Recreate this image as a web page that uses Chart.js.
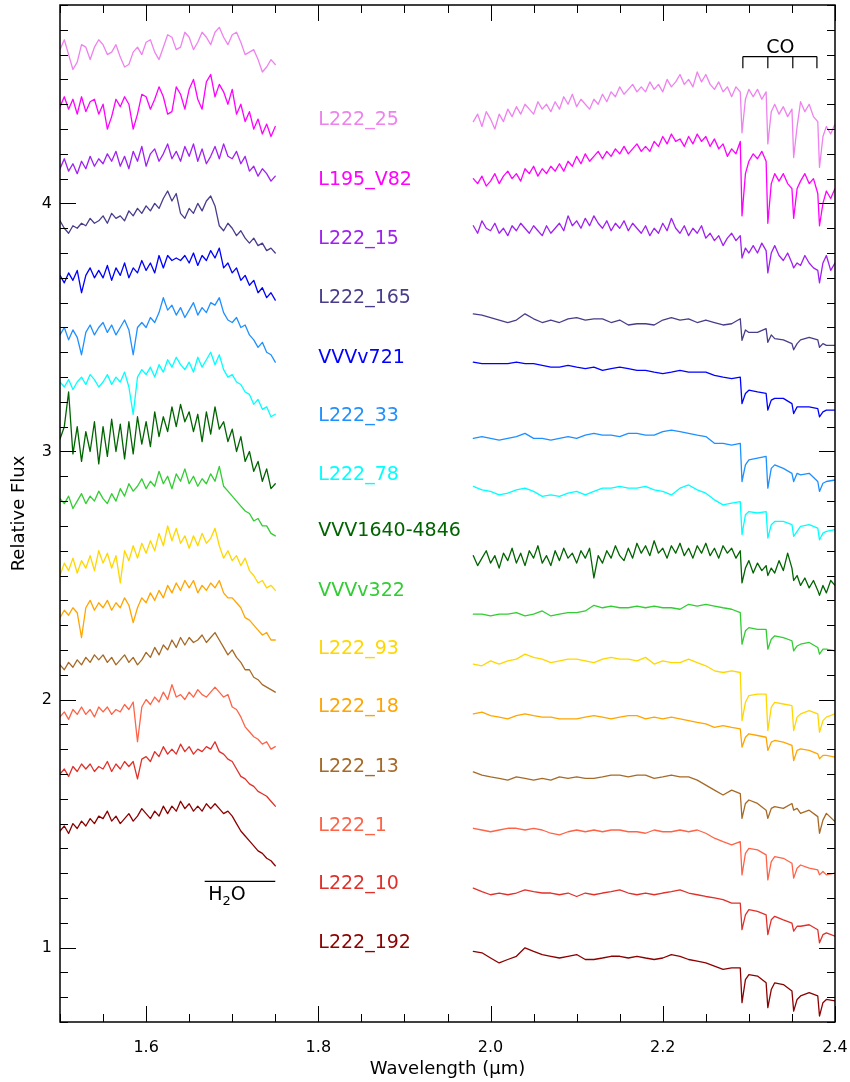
<!DOCTYPE html>
<html>
<head>
<meta charset="utf-8">
<script src="https://cdn.jsdelivr.net/npm/chart.js@4/dist/chart.umd.min.js"></script>
<style>
html,body{margin:0;padding:0;background:#fff;}
canvas{display:block;}
</style>
</head>
<body>
<canvas id="c" width="850" height="1082"></canvas>
<script>
// ---- wavelength grids (micron) ----
const hWave = [1.500,1.505,1.510,1.515,1.520,1.525,1.530,1.535,1.540,1.545,1.550,1.555,1.560,1.565,1.570,1.575,1.580,1.585,1.590,1.595,1.600,1.605,1.610,1.615,1.620,1.625,1.630,1.635,1.640,1.645,1.650,1.655,1.660,1.665,1.670,1.675,1.680,1.685,1.690,1.695,1.700,1.705,1.710,1.715,1.720,1.725,1.730,1.735,1.740,1.745,1.750];
const kWave = [1.98,1.99,2.00,2.01,2.02,2.03,2.04,2.05,2.06,2.07,2.08,2.09,2.10,2.11,2.12,2.13,2.14,2.15,2.16,2.17,2.18,2.19,2.20,2.21,2.22,2.23,2.24,2.25,2.26,2.27,2.28,2.29,2.292,2.296,2.30,2.31,2.32,2.322,2.326,2.33,2.34,2.35,2.352,2.356,2.36,2.37,2.38,2.382,2.386,2.39,2.40];
const kWaveFine = [1.980,1.985,1.990,1.995,2.000,2.005,2.010,2.015,2.020,2.025,2.030,2.035,2.040,2.045,2.050,2.055,2.060,2.065,2.070,2.075,2.080,2.085,2.090,2.095,2.100,2.105,2.110,2.115,2.120,2.125,2.130,2.135,2.140,2.145,2.150,2.155,2.160,2.165,2.170,2.175,2.180,2.185,2.190,2.195,2.200,2.205,2.210,2.215,2.220,2.225,2.230,2.235,2.240,2.245,2.250,2.255,2.260,2.265,2.270,2.275,2.280,2.285,2.290,2.292,2.296,2.300,2.305,2.310,2.315,2.320,2.322,2.326,2.330,2.335,2.340,2.345,2.350,2.352,2.356,2.360,2.365,2.370,2.375,2.380,2.382,2.386,2.390,2.395,2.400];

// ---- star names (top to bottom) and colours ----
const starNames = ["L222_25","L195_V82","L222_15","L222_165","VVVv721","L222_33","L222_78","VVV1640-4846","VVVv322","L222_93","L222_18","L222_13","L222_1","L222_10","L222_192"];
const starColors = ["#EE82EE","#FF00FF","#A020F0","#483D8B","#0000FF","#1E90FF","#00FFFF","#006400","#32CD32","#FFD700","#FFA500","#A66A26","#FF6347","#E0302A","#8B0000"];
const labelFlux = [4.337,4.096,3.855,3.618,3.377,3.144,2.904,2.679,2.438,2.204,1.968,1.727,1.490,1.257,1.020];

// ---- H-band relative flux ----
const hL222_25  = [4.62,4.66,4.60,4.54,4.57,4.64,4.63,4.58,4.63,4.66,4.64,4.60,4.61,4.64,4.59,4.55,4.56,4.61,4.63,4.60,4.65,4.66,4.61,4.58,4.63,4.68,4.67,4.62,4.63,4.69,4.67,4.62,4.65,4.69,4.67,4.64,4.69,4.71,4.67,4.64,4.68,4.69,4.65,4.60,4.61,4.62,4.58,4.53,4.55,4.58,4.56];
const hL195_V82 = [4.39,4.43,4.38,4.42,4.36,4.43,4.37,4.41,4.42,4.36,4.40,4.30,4.35,4.42,4.39,4.43,4.40,4.30,4.36,4.44,4.43,4.38,4.42,4.47,4.43,4.36,4.37,4.47,4.44,4.38,4.46,4.50,4.42,4.38,4.49,4.52,4.43,4.48,4.45,4.40,4.46,4.36,4.40,4.33,4.37,4.30,4.34,4.28,4.32,4.27,4.31];
const hL222_15  = [4.14,4.18,4.13,4.16,4.12,4.17,4.14,4.19,4.15,4.18,4.16,4.20,4.17,4.21,4.15,4.19,4.14,4.21,4.17,4.23,4.15,4.20,4.22,4.17,4.20,4.24,4.18,4.21,4.17,4.23,4.19,4.24,4.17,4.22,4.16,4.19,4.23,4.18,4.24,4.19,4.18,4.21,4.16,4.19,4.13,4.15,4.11,4.14,4.12,4.09,4.11];
const hL222_165 = [3.93,3.90,3.88,3.91,3.90,3.92,3.91,3.94,3.92,3.93,3.95,3.92,3.96,3.94,3.95,3.93,3.97,3.95,3.98,3.96,3.99,3.97,4.00,3.98,4.02,4.05,4.01,4.04,3.96,3.94,3.98,3.96,4.00,3.97,4.01,4.03,3.99,3.91,3.89,3.92,3.90,3.87,3.89,3.86,3.84,3.86,3.83,3.84,3.81,3.82,3.80];
const hVVVv721  = [3.71,3.68,3.72,3.69,3.73,3.64,3.71,3.74,3.70,3.73,3.70,3.75,3.69,3.74,3.71,3.76,3.70,3.74,3.72,3.77,3.73,3.76,3.72,3.79,3.74,3.79,3.77,3.78,3.77,3.79,3.76,3.80,3.75,3.79,3.77,3.81,3.78,3.82,3.74,3.76,3.72,3.74,3.69,3.71,3.67,3.69,3.64,3.66,3.62,3.64,3.61];
const hL222_33  = [3.47,3.50,3.45,3.49,3.46,3.39,3.48,3.51,3.47,3.50,3.52,3.48,3.51,3.47,3.50,3.53,3.49,3.39,3.50,3.52,3.50,3.54,3.52,3.56,3.62,3.57,3.59,3.55,3.58,3.54,3.57,3.60,3.55,3.58,3.56,3.60,3.59,3.62,3.56,3.53,3.52,3.54,3.50,3.51,3.47,3.45,3.42,3.44,3.40,3.39,3.36];
const hL222_78  = [3.28,3.26,3.29,3.25,3.28,3.30,3.27,3.31,3.29,3.26,3.28,3.31,3.27,3.30,3.28,3.32,3.26,3.15,3.30,3.33,3.31,3.34,3.30,3.35,3.32,3.37,3.34,3.38,3.35,3.33,3.36,3.32,3.38,3.34,3.37,3.40,3.35,3.39,3.33,3.30,3.31,3.28,3.27,3.24,3.23,3.19,3.21,3.17,3.18,3.14,3.15];
const hVVV1640  = [3.05,3.10,3.24,2.99,3.10,2.96,3.08,3.00,3.12,2.95,3.10,2.98,3.13,3.00,3.11,2.97,3.12,2.99,3.14,3.03,3.12,3.02,3.16,3.06,3.14,3.08,3.18,3.10,3.19,3.12,3.16,3.08,3.15,3.04,3.16,3.07,3.18,3.09,3.12,3.04,3.09,3.00,3.06,2.96,3.00,2.92,2.96,2.88,2.93,2.85,2.87];
const hVVVv322  = [2.81,2.79,2.82,2.77,2.80,2.83,2.79,2.82,2.80,2.84,2.81,2.79,2.83,2.80,2.85,2.82,2.87,2.84,2.86,2.89,2.85,2.88,2.86,2.92,2.87,2.90,2.85,2.91,2.88,2.93,2.87,2.90,2.86,2.89,2.87,2.91,2.88,2.94,2.86,2.84,2.82,2.80,2.78,2.76,2.75,2.72,2.73,2.70,2.70,2.67,2.66];
const hL222_93  = [2.50,2.55,2.52,2.57,2.51,2.56,2.53,2.58,2.52,2.60,2.55,2.59,2.53,2.58,2.47,2.60,2.56,2.62,2.57,2.63,2.59,2.64,2.60,2.67,2.62,2.70,2.64,2.69,2.63,2.66,2.61,2.66,2.62,2.67,2.63,2.65,2.69,2.62,2.57,2.60,2.56,2.58,2.54,2.57,2.52,2.50,2.47,2.48,2.45,2.46,2.44];
const hL222_18  = [2.33,2.36,2.34,2.37,2.35,2.25,2.37,2.40,2.36,2.39,2.37,2.40,2.36,2.39,2.37,2.41,2.38,2.31,2.37,2.41,2.39,2.43,2.40,2.44,2.41,2.46,2.43,2.47,2.44,2.48,2.45,2.48,2.43,2.46,2.44,2.47,2.45,2.48,2.43,2.41,2.41,2.39,2.37,2.33,2.32,2.30,2.28,2.26,2.27,2.24,2.24];
const hL222_13  = [2.14,2.12,2.15,2.13,2.16,2.14,2.17,2.15,2.18,2.16,2.18,2.15,2.17,2.14,2.16,2.18,2.15,2.17,2.14,2.16,2.19,2.17,2.21,2.18,2.22,2.20,2.24,2.21,2.25,2.22,2.25,2.23,2.24,2.26,2.23,2.25,2.27,2.24,2.21,2.18,2.20,2.17,2.15,2.12,2.12,2.09,2.08,2.06,2.05,2.04,2.03];
const hL222_1   = [1.93,1.95,1.92,1.96,1.94,1.97,1.94,1.96,1.93,1.97,1.95,1.97,1.94,1.96,1.95,1.98,1.96,1.99,1.83,1.97,2.00,1.98,2.01,1.99,2.03,2.00,2.06,2.01,2.02,2.00,2.03,2.01,2.04,2.02,2.01,2.03,2.05,2.03,2.01,2.02,1.97,1.96,1.93,1.89,1.87,1.85,1.84,1.82,1.83,1.80,1.81];
const hL222_10  = [1.70,1.72,1.69,1.73,1.71,1.74,1.72,1.74,1.71,1.73,1.72,1.75,1.71,1.74,1.72,1.75,1.73,1.75,1.68,1.76,1.77,1.75,1.79,1.77,1.81,1.78,1.80,1.78,1.82,1.79,1.81,1.78,1.80,1.79,1.81,1.80,1.83,1.79,1.78,1.76,1.75,1.72,1.69,1.68,1.66,1.65,1.63,1.62,1.61,1.59,1.57];
const hL222_192 = [1.47,1.49,1.46,1.50,1.48,1.51,1.49,1.52,1.50,1.53,1.52,1.55,1.51,1.53,1.50,1.52,1.54,1.51,1.53,1.56,1.54,1.52,1.55,1.53,1.57,1.54,1.57,1.55,1.59,1.56,1.58,1.55,1.57,1.55,1.58,1.56,1.58,1.56,1.54,1.55,1.53,1.50,1.47,1.45,1.43,1.41,1.39,1.38,1.36,1.35,1.33];

// ---- K-band relative flux (first three and VVV1640-4846 on kWaveFine, the rest on kWave) ----
const kL222_25  = [4.33,4.36,4.31,4.37,4.34,4.30,4.36,4.33,4.38,4.35,4.39,4.36,4.40,4.38,4.36,4.41,4.38,4.40,4.37,4.41,4.38,4.43,4.40,4.44,4.39,4.42,4.40,4.38,4.42,4.40,4.44,4.41,4.45,4.43,4.47,4.44,4.46,4.48,4.45,4.47,4.45,4.49,4.46,4.48,4.45,4.50,4.47,4.49,4.52,4.48,4.50,4.47,4.53,4.49,4.52,4.48,4.46,4.49,4.45,4.47,4.43,4.47,4.45,4.285,4.42,4.46,4.43,4.46,4.42,4.45,4.24,4.37,4.40,4.36,4.39,4.35,4.38,4.185,4.31,4.41,4.37,4.40,4.35,4.33,4.145,4.27,4.31,4.28,4.32];
const kL195_V82 = [4.10,4.08,4.11,4.07,4.09,4.12,4.08,4.11,4.13,4.10,4.12,4.09,4.14,4.12,4.15,4.11,4.14,4.12,4.15,4.13,4.16,4.13,4.17,4.15,4.19,4.16,4.20,4.17,4.19,4.21,4.18,4.21,4.19,4.22,4.20,4.23,4.20,4.22,4.24,4.21,4.23,4.21,4.25,4.23,4.27,4.24,4.28,4.25,4.26,4.23,4.27,4.24,4.28,4.25,4.27,4.23,4.26,4.22,4.24,4.19,4.22,4.20,4.25,3.95,4.12,4.17,4.20,4.18,4.21,4.17,3.92,4.08,4.12,4.09,4.12,4.08,4.06,3.94,4.06,4.09,4.12,4.08,4.10,4.04,3.91,4.00,4.05,4.02,4.06];
const kL222_15  = [3.91,3.88,3.93,3.90,3.89,3.92,3.88,3.90,3.87,3.91,3.89,3.92,3.90,3.88,3.91,3.89,3.87,3.91,3.88,3.90,3.92,3.89,3.95,3.91,3.93,3.90,3.94,3.91,3.95,3.92,3.90,3.93,3.89,3.92,3.90,3.93,3.89,3.92,3.90,3.88,3.91,3.87,3.90,3.88,3.92,3.89,3.94,3.90,3.88,3.91,3.87,3.90,3.88,3.91,3.86,3.88,3.85,3.87,3.83,3.86,3.88,3.85,3.87,3.78,3.82,3.80,3.83,3.80,3.84,3.81,3.72,3.80,3.83,3.79,3.77,3.80,3.76,3.74,3.76,3.75,3.79,3.76,3.74,3.73,3.68,3.76,3.79,3.73,3.76];
const kL222_165 = [3.555,3.55,3.54,3.53,3.52,3.53,3.555,3.535,3.52,3.53,3.52,3.535,3.54,3.53,3.535,3.535,3.52,3.53,3.51,3.515,3.515,3.51,3.53,3.54,3.53,3.535,3.52,3.53,3.52,3.51,3.515,3.535,3.448,3.49,3.48,3.48,3.495,3.44,3.47,3.455,3.45,3.435,3.41,3.435,3.45,3.46,3.45,3.42,3.435,3.428,3.428];
const kVVVv721  = [3.36,3.354,3.354,3.354,3.354,3.36,3.354,3.354,3.347,3.34,3.34,3.347,3.34,3.334,3.34,3.327,3.334,3.34,3.334,3.327,3.327,3.32,3.314,3.32,3.327,3.32,3.32,3.32,3.307,3.30,3.294,3.30,3.193,3.234,3.247,3.24,3.234,3.167,3.207,3.214,3.214,3.193,3.153,3.18,3.18,3.18,3.173,3.14,3.16,3.167,3.167];
const kL222_33  = [3.053,3.06,3.053,3.046,3.053,3.06,3.073,3.053,3.053,3.046,3.053,3.06,3.053,3.066,3.073,3.066,3.066,3.06,3.073,3.073,3.066,3.066,3.08,3.086,3.08,3.073,3.066,3.06,3.033,3.033,3.026,3.033,2.879,2.946,2.966,2.973,2.98,2.852,2.932,2.946,2.932,2.912,2.879,2.912,2.906,2.912,2.879,2.839,2.872,2.879,2.885];
const kL222_78  = [2.859,2.845,2.839,2.825,2.832,2.845,2.852,2.839,2.819,2.825,2.819,2.832,2.839,2.825,2.839,2.852,2.852,2.859,2.852,2.852,2.859,2.845,2.839,2.825,2.852,2.865,2.845,2.832,2.805,2.785,2.792,2.798,2.665,2.745,2.758,2.752,2.758,2.651,2.705,2.718,2.718,2.705,2.658,2.678,2.698,2.705,2.691,2.644,2.671,2.678,2.685];
const kVVV1640  = [2.58,2.54,2.57,2.60,2.55,2.58,2.53,2.59,2.56,2.61,2.55,2.59,2.54,2.60,2.57,2.62,2.55,2.58,2.54,2.60,2.56,2.61,2.57,2.59,2.55,2.60,2.57,2.61,2.49,2.58,2.55,2.60,2.57,2.62,2.58,2.56,2.61,2.57,2.63,2.59,2.62,2.58,2.64,2.59,2.61,2.57,2.62,2.59,2.63,2.58,2.61,2.57,2.62,2.59,2.63,2.58,2.61,2.57,2.62,2.59,2.61,2.57,2.60,2.47,2.53,2.56,2.51,2.55,2.52,2.54,2.50,2.53,2.51,2.56,2.52,2.59,2.53,2.48,2.50,2.46,2.49,2.45,2.48,2.44,2.42,2.46,2.43,2.48,2.46];
const kVVVv322  = [2.344,2.344,2.337,2.344,2.344,2.35,2.337,2.344,2.357,2.337,2.344,2.35,2.35,2.357,2.38,2.37,2.377,2.37,2.37,2.377,2.37,2.377,2.37,2.37,2.364,2.384,2.377,2.384,2.377,2.37,2.364,2.35,2.223,2.277,2.29,2.283,2.283,2.203,2.243,2.257,2.25,2.237,2.196,2.216,2.223,2.23,2.21,2.183,2.203,2.203,2.196];
const kL222_93  = [2.143,2.136,2.156,2.143,2.156,2.163,2.183,2.17,2.163,2.149,2.156,2.163,2.163,2.156,2.149,2.163,2.17,2.163,2.163,2.156,2.17,2.143,2.156,2.149,2.149,2.163,2.149,2.136,2.116,2.109,2.116,2.109,1.915,1.989,2.016,2.022,2.022,1.875,1.969,1.989,1.982,1.975,1.875,1.929,1.942,1.955,1.942,1.868,1.915,1.929,1.942];
const kL222_18  = [1.942,1.949,1.935,1.929,1.922,1.935,1.942,1.935,1.929,1.929,1.922,1.922,1.922,1.929,1.935,1.929,1.922,1.929,1.935,1.935,1.922,1.929,1.922,1.929,1.922,1.915,1.908,1.902,1.888,1.895,1.888,1.882,1.808,1.848,1.862,1.855,1.848,1.795,1.828,1.835,1.828,1.815,1.754,1.795,1.801,1.795,1.781,1.761,1.775,1.775,1.768];
const kL222_13  = [1.708,1.695,1.688,1.682,1.675,1.688,1.682,1.675,1.682,1.675,1.688,1.682,1.688,1.682,1.682,1.688,1.695,1.695,1.688,1.695,1.695,1.682,1.688,1.695,1.688,1.688,1.675,1.655,1.635,1.615,1.635,1.621,1.521,1.581,1.595,1.581,1.554,1.521,1.561,1.568,1.561,1.581,1.554,1.561,1.541,1.554,1.528,1.461,1.514,1.541,1.508];
const kL222_1   = [1.481,1.474,1.467,1.474,1.481,1.481,1.474,1.481,1.474,1.461,1.454,1.467,1.474,1.467,1.474,1.467,1.474,1.474,1.467,1.467,1.461,1.474,1.467,1.467,1.474,1.467,1.474,1.461,1.441,1.427,1.414,1.427,1.293,1.38,1.40,1.394,1.374,1.273,1.347,1.367,1.36,1.34,1.28,1.32,1.333,1.32,1.313,1.293,1.307,1.293,1.30];
const kL222_10  = [1.24,1.226,1.213,1.22,1.213,1.22,1.233,1.226,1.22,1.22,1.213,1.22,1.206,1.22,1.213,1.22,1.226,1.233,1.22,1.213,1.22,1.213,1.22,1.226,1.233,1.22,1.213,1.206,1.20,1.193,1.179,1.179,1.072,1.132,1.153,1.146,1.132,1.052,1.112,1.126,1.112,1.099,1.066,1.086,1.086,1.092,1.072,1.019,1.052,1.059,1.046];
const kL222_192 = [0.985,0.979,0.958,0.938,0.952,0.965,0.999,0.985,0.972,0.965,0.958,0.965,0.972,0.952,0.952,0.958,0.965,0.965,0.958,0.965,0.958,0.952,0.958,0.972,0.965,0.952,0.945,0.938,0.925,0.912,0.918,0.918,0.778,0.871,0.891,0.885,0.858,0.758,0.831,0.858,0.851,0.825,0.744,0.791,0.805,0.818,0.805,0.724,0.778,0.791,0.785];

// ---- axis tick labels ----
const xTickVals = [1.6,1.8,2.0,2.2,2.4];
const yTickVals = [1,2,3,4];

// ---- feature markers ----
const coBandheads = [2.293,2.322,2.351,2.379];
const h2oRange = [1.668,1.75];

const hSets = [hL222_25,hL195_V82,hL222_15,hL222_165,hVVVv721,hL222_33,hL222_78,hVVV1640,hVVVv322,hL222_93,hL222_18,hL222_13,hL222_1,hL222_10,hL222_192];
const kSets = [kL222_25,kL195_V82,kL222_15,kL222_165,kVVVv721,kL222_33,kL222_78,kVVV1640,kVVVv322,kL222_93,kL222_18,kL222_13,kL222_1,kL222_10,kL222_192];
const kGrids = [kWaveFine,kWaveFine,kWaveFine,kWave,kWave,kWave,kWave,kWaveFine,kWave,kWave,kWave,kWave,kWave,kWave,kWave];

const FONT = "'DejaVu Sans', 'Liberation Sans', sans-serif";

const datasets = [];
starNames.forEach((n, i) => {
  datasets.push({label: n + ' H', data: hWave.map((w, j) => ({x: w, y: hSets[i][j]})), borderColor: starColors[i]});
  datasets.push({label: n + ' K', data: kGrids[i].map((w, j) => ({x: w, y: kSets[i][j]})), borderColor: starColors[i]});
});
datasets.forEach(d => { d.borderWidth = 1.3; d.pointRadius = 0; d.fill = false; d.tension = 0; });

const decor = {
  id: 'decor',
  afterDraw(chart) {
    const {ctx, chartArea: a, scales: {x, y}} = chart;
    ctx.save();
    ctx.strokeStyle = '#000';
    ctx.lineWidth = 1;
    ctx.beginPath();
    for (let i = 30; i <= 48; i++) {
      const px = Math.round(x.getPixelForValue(i * 0.05)) + 0.5;
      const len = (i % 4 === 0) ? 16 : 8;
      ctx.moveTo(px, a.bottom); ctx.lineTo(px, a.bottom - len);
      ctx.moveTo(px, a.top); ctx.lineTo(px, a.top + len);
    }
    for (let i = 7; i <= 48; i++) {
      const py = Math.round(y.getPixelForValue(i * 0.1)) + 0.5;
      const len = (i % 10 === 0) ? 16 : 8;
      ctx.moveTo(a.left, py); ctx.lineTo(a.left + len, py);
      ctx.moveTo(a.right, py); ctx.lineTo(a.right - len, py);
    }
    ctx.stroke();
    ctx.lineWidth = 1.5;
    ctx.strokeRect(a.left, a.top, a.right - a.left, a.bottom - a.top);

    ctx.font = '19px ' + FONT;
    ctx.textAlign = 'left';
    ctx.textBaseline = 'middle';
    starNames.forEach((n, i) => {
      ctx.fillStyle = starColors[i];
      ctx.fillText(n, x.getPixelForValue(1.8), y.getPixelForValue(labelFlux[i]));
    });

    ctx.strokeStyle = '#000';
    ctx.fillStyle = '#000';
    ctx.lineWidth = 1.2;
    const yb = y.getPixelForValue(4.592), yt = y.getPixelForValue(4.545);
    ctx.beginPath();
    ctx.moveTo(x.getPixelForValue(coBandheads[0]), yb);
    ctx.lineTo(x.getPixelForValue(coBandheads[3]), yb);
    coBandheads.forEach(w => {
      const px = x.getPixelForValue(w);
      ctx.moveTo(px, yb); ctx.lineTo(px, yt);
    });
    ctx.stroke();
    ctx.textAlign = 'center';
    ctx.textBaseline = 'alphabetic';
    ctx.font = '19px ' + FONT;
    ctx.fillText('CO', x.getPixelForValue(2.3365), y.getPixelForValue(4.605));

    const yh = y.getPixelForValue(1.267);
    ctx.beginPath();
    ctx.moveTo(x.getPixelForValue(h2oRange[0]), yh);
    ctx.lineTo(x.getPixelForValue(h2oRange[1]), yh);
    ctx.stroke();
    const base = y.getPixelForValue(1.192);
    let px = x.getPixelForValue(1.7) - 24;
    ctx.textAlign = 'left';
    ctx.font = '19px ' + FONT;
    ctx.fillText('H', px, base); px += ctx.measureText('H').width;
    ctx.font = '13px ' + FONT;
    ctx.fillText('2', px, base + 5); px += ctx.measureText('2').width;
    ctx.font = '19px ' + FONT;
    ctx.fillText('O', px, base);
    ctx.restore();
  }
};

new Chart(document.getElementById('c'), {
  type: 'line',
  data: {datasets},
  options: {
    responsive: false,
    animation: false,
    events: [],
    layout: {padding: {top: 5, right: 15, left: 0, bottom: 0}},
    plugins: {legend: {display: false}, tooltip: {enabled: false}},
    elements: {line: {borderCapStyle: 'round', borderJoinStyle: 'round'}},
    scales: {
      x: {
        type: 'linear', min: 1.5, max: 2.4,
        grid: {display: false, drawTicks: false}, border: {display: false},
        afterBuildTicks: s => { s.ticks = xTickVals.map(v => ({value: v})); },
        afterFit: s => { s.height = 60; s.paddingLeft = 0; s.paddingRight = 0; },
        ticks: {color: '#000', font: {family: FONT, size: 16}, padding: 16, maxRotation: 0, autoSkip: false,
                callback: v => Number(v).toFixed(1)},
        title: {display: true, text: 'Wavelength (μm)', color: '#000', font: {family: FONT, size: 18}, padding: {top: 0, bottom: 2}}
      },
      y: {
        type: 'linear', min: 0.7, max: 4.8,
        grid: {display: false, drawTicks: false}, border: {display: false},
        afterBuildTicks: s => { s.ticks = yTickVals.map(v => ({value: v})); },
        afterFit: s => { s.width = 60; s.paddingTop = 0; s.paddingBottom = 0; },
        ticks: {color: '#000', font: {family: FONT, size: 16}, padding: 8, autoSkip: false,
                callback: v => String(v)},
        title: {display: true, text: 'Relative Flux', color: '#000', font: {family: FONT, size: 18}, padding: {top: 9, bottom: 0}}
      }
    }
  },
  plugins: [decor]
});
</script>
</body>
</html>
